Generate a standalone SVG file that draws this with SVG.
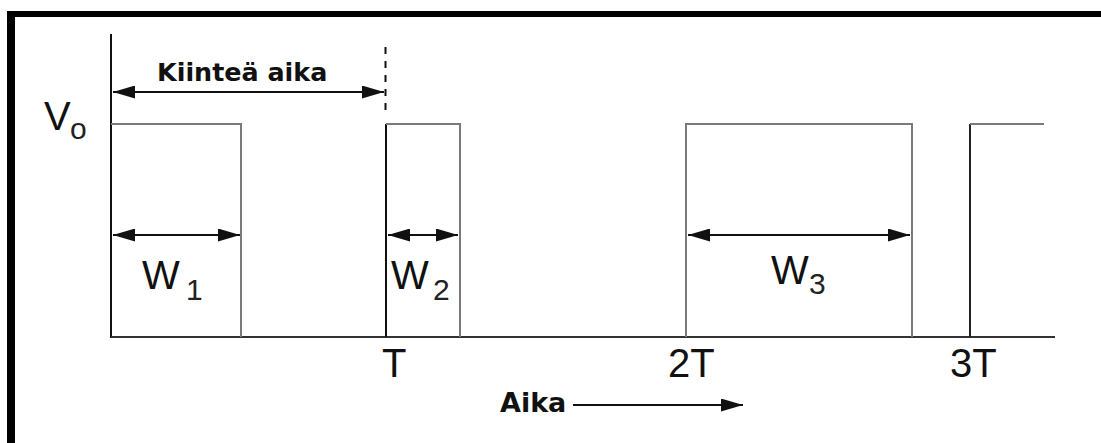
<svg xmlns="http://www.w3.org/2000/svg" width="1101" height="443" viewBox="0 0 1101 443">
  <style>
    .lbl { font-family: "Liberation Sans", Arial, sans-serif; font-size: 40px; fill: #111; }
    .sub { font-family: "Liberation Sans", Arial, sans-serif; font-size: 30px; fill: #222; }
    .bold { font-family: "DejaVu Sans", Verdana, sans-serif; font-weight: bold; fill: #111; }
    .pulse { fill: none; stroke: #7a7a7a; stroke-width: 2; }
    .dark { fill: none; stroke: #111; stroke-width: 2; }
    .arrow { stroke: #111; stroke-width: 2; fill: none; marker-start: url(#ahs); marker-end: url(#ahe); }
  </style>
  <defs>
    <marker id="ahe" markerUnits="userSpaceOnUse" markerWidth="24" markerHeight="14" refX="22" refY="6.5" orient="auto">
      <path d="M0,0 L22,6.5 L0,13 Z" fill="#111"/>
    </marker>
    <marker id="ahs" markerUnits="userSpaceOnUse" markerWidth="24" markerHeight="14" refX="0" refY="6.5" orient="auto">
      <path d="M22,0 L0,6.5 L22,13 Z" fill="#111"/>
    </marker>
  </defs>
  <rect width="1101" height="443" fill="#fff"/>
  <!-- frame -->
  <g id="frame">
    <rect x="7" y="11" width="1094" height="6" fill="#000"/>
    <rect x="7" y="11" width="8" height="432" fill="#000"/>
  </g>
  <!-- axes -->
  <g id="axes">
    <line x1="111" y1="34" x2="111" y2="338" class="dark"/>
    <line x1="111" y1="337" x2="1055" y2="337" stroke="#333" stroke-width="2.2"/>
  </g>
  <!-- pulses -->
  <g id="pulses">
    <polyline class="pulse" points="111,124 241,124 241,337"/>
    <line x1="386" y1="124" x2="386" y2="337" class="dark"/>
    <polyline class="pulse" points="386,124 460,124 460,337" stroke="#555"/>
    <polyline class="pulse" points="686,337 686,124 912,124 912,337"/>
    <line x1="970" y1="124" x2="970" y2="337" stroke="#222" stroke-width="2"/>
    <line x1="970" y1="124" x2="1044" y2="124" class="pulse"/>
    <line x1="385.5" y1="47" x2="385.5" y2="112" stroke="#111" stroke-width="2" stroke-dasharray="7,7"/>
  </g>
  <!-- connectors / dimension arrows -->
  <g id="connectors">
    <line x1="113" y1="92" x2="384" y2="92" class="arrow"/>
    <line x1="113" y1="235" x2="240" y2="235" class="arrow"/>
    <line x1="388" y1="235" x2="458" y2="235" class="arrow"/>
    <line x1="688" y1="235" x2="910" y2="235" class="arrow"/>
    <line x1="573" y1="405" x2="743" y2="405" stroke="#111" stroke-width="2" marker-end="url(#ahe)"/>
  </g>
  <!-- labels -->
  <g id="label-fixed"><text x="157" y="81" class="bold" font-size="25.4">Kiinteä aika</text></g>
  <g id="label-v0"><text x="44" y="130" class="lbl">V</text><text x="70" y="139" class="sub" font-size="32">o</text></g>
  <g id="label-w1"><text x="142" y="289" class="lbl">W</text><text x="186" y="300" class="sub">1</text></g>
  <g id="label-w2"><text x="391" y="289" class="lbl">W</text><text x="433" y="300" class="sub">2</text></g>
  <g id="label-w3"><text x="771" y="284" class="lbl">W</text><text x="809" y="294" class="sub">3</text></g>
  <g id="label-t"><text x="382" y="377" class="lbl">T</text></g>
  <g id="label-2t"><text x="668" y="377" class="lbl">2T</text></g>
  <g id="label-3t"><text x="950" y="377" class="lbl">3T</text></g>
  <g id="label-aika"><text x="500" y="412" class="bold" font-size="27">Aika</text></g>
</svg>
